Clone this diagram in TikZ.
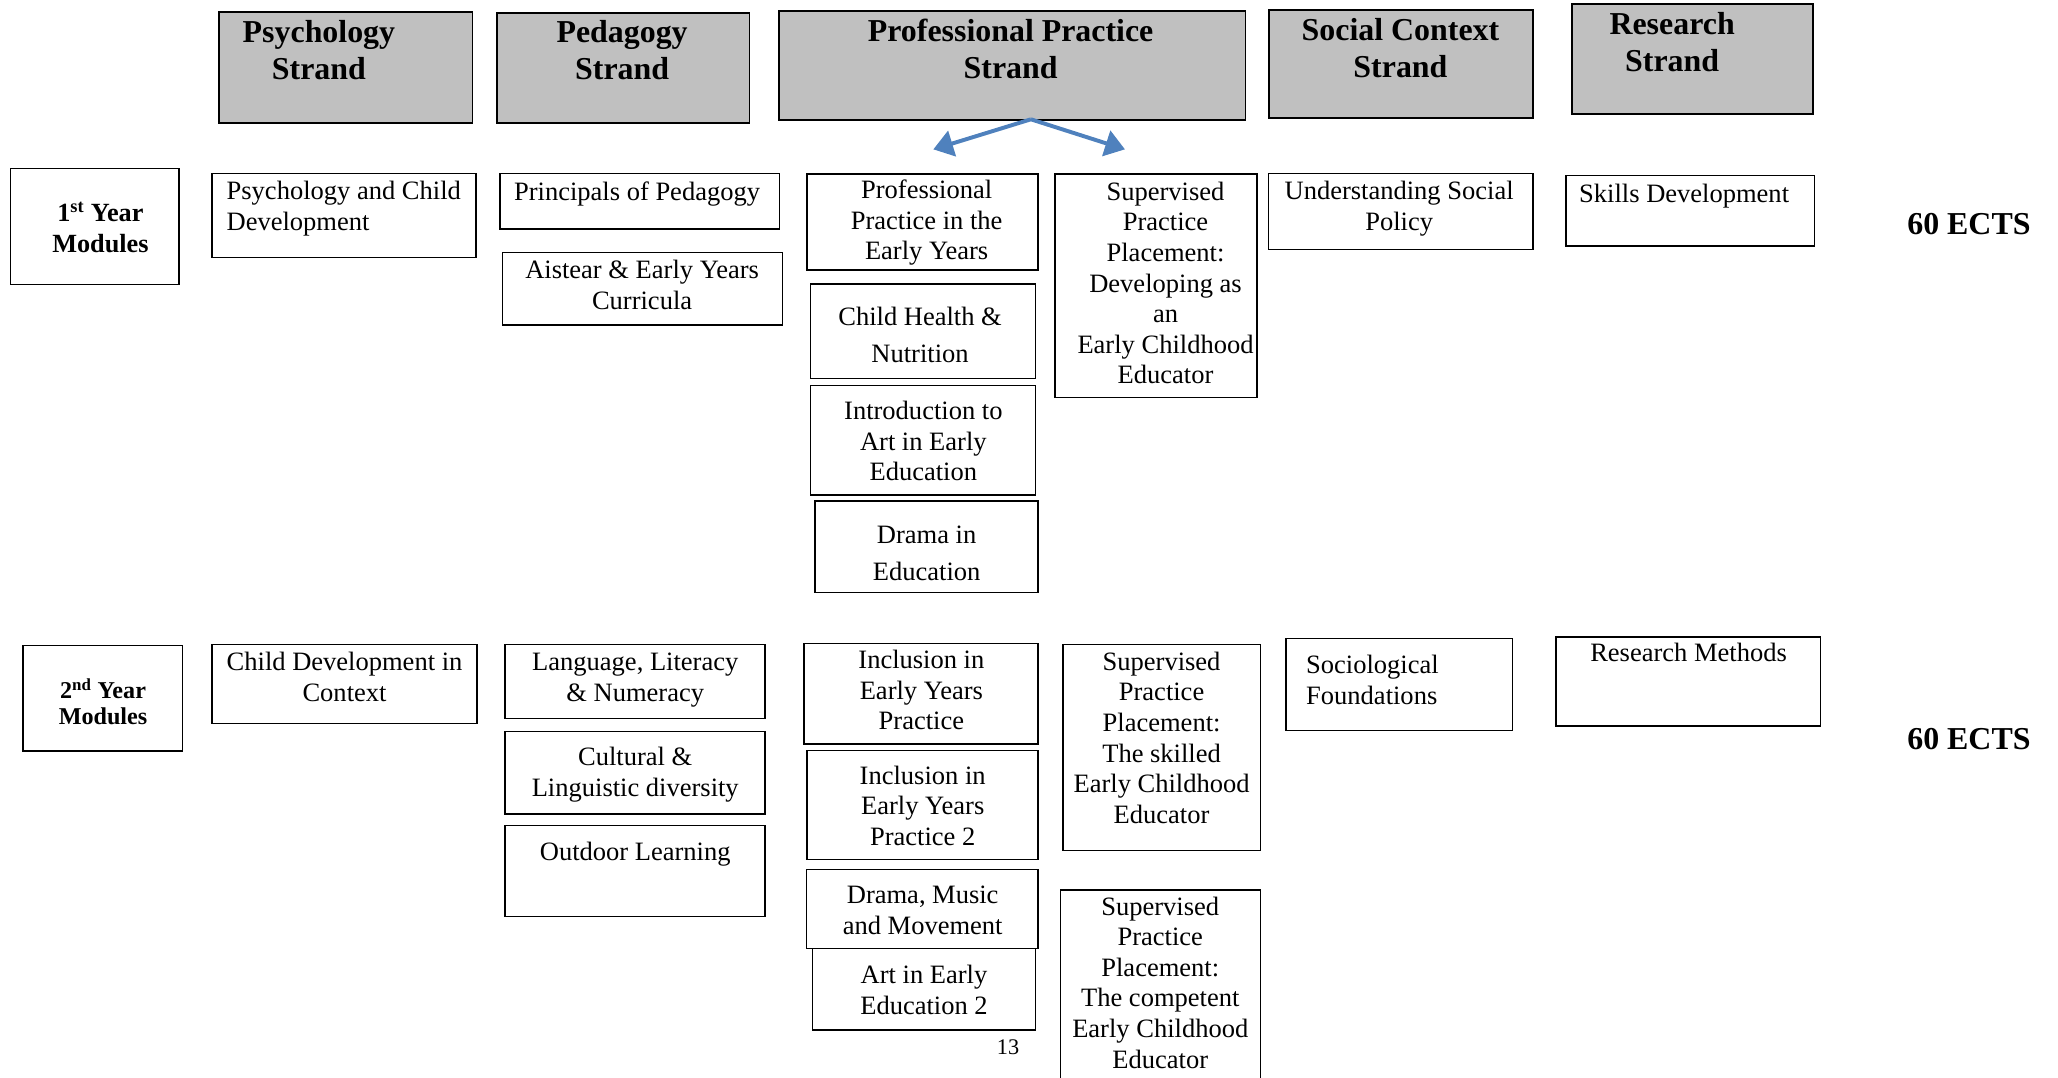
\documentclass[tikz,border=0pt]{standalone}
\usepackage{fontspec}
\setmainfont{Liberation Serif}
\usetikzlibrary{arrows.meta,calc}
\definecolor{hgray}{RGB}{192,192,192}
\definecolor{arrblue}{RGB}{79,129,189}
\newcommand{\bx}[6]{\node[#1, minimum width={#4-#2}, minimum height={#5-#3}] (#6) at (#2,#3) {};}
\begin{document}
\begin{tikzpicture}[x=1pt,y=-1pt,
  hdr/.style={draw=black, line width=1.4pt, fill=hgray, anchor=north west, inner sep=0pt, outer sep=0pt},
  modbox/.style={draw=black, line width=1.1pt, fill=white, anchor=north west, inner sep=0pt, outer sep=0pt},
  htxt/.style={font=\fontsize{24.3}{28}\selectfont\bfseries, align=center, inner sep=0pt, anchor=north},
  ytxt/.style={font=\fontsize{20}{23}\selectfont\bfseries, align=center, inner sep=0pt, anchor=north},
  ytxtb/.style={font=\fontsize{18.4}{20.3}\selectfont\bfseries, align=center, inner sep=0pt, anchor=north},
  mtxt/.style={font=\fontsize{20.2}{23.3}\selectfont, align=center, inner sep=0pt, anchor=north},
  mtxtw/.style={font=\fontsize{20.2}{27.8}\selectfont, align=center, inner sep=0pt, anchor=north},
  ltxt/.style={font=\fontsize{20.2}{23.3}\selectfont, align=left, inner sep=0pt, anchor=north west},
  ects/.style={font=\fontsize{24.3}{28}\selectfont\bfseries, inner sep=0pt, anchor=base west},
  pgnum/.style={font=\fontsize{17}{20}\selectfont, inner sep=0pt, anchor=base},
  arr/.style={draw=arrblue, line width=3pt, -{Triangle[length=15pt,width=20pt]}}
]
\useasboundingbox (0,0) rectangle (1568,821.3);
\clip (0,0) rectangle (1568,821.3);

% strand headers
\bx{hdr}{167}{9.4}{360}{94}{psy}
\bx{hdr}{378.5}{9.7}{571}{94}{ped}
\bx{hdr}{593.5}{8.1}{949}{91.4}{pro}
\bx{hdr}{967}{7.6}{1168}{89.7}{soc}
\bx{hdr}{1197.5}{3}{1381}{86.9}{res}
\node[htxt] (psyT) at (243,12.9) {\strut Psychology\\Strand};
\node[htxt] (pedT) at (474,12.9) {\strut Pedagogy\\Strand};
\node[htxt] (proT) at (770,12.2) {\strut Professional Practice\\Strand};
\node[htxt] (socT) at (1067,11.4) {\strut Social Context\\Strand};
\node[htxt] (resT) at (1274,6.5) {\strut Research\\Strand};

% arrows
\coordinate (apex) at ([xshift=14.2pt,yshift=0.5pt]pro.south);
\coordinate (tipL) at (711.1,113.8);
\coordinate (tipR) at (857.1,113.8);
\draw[arr] (apex) -- (tipL);
\draw[arr] (apex) -- (tipR);

% 1st year
\bx{modbox}{8}{128.2}{136.5}{216.6}{y1}
\node[ytxt] (y1T) at (76.5,152.8) {\strut 1\textsuperscript{st} Year\\Modules};
\bx{modbox}{161.5}{132}{362.5}{196.3}{pcd}
\node[ltxt] (pcdT) at (172.5,135.5) {\strut Psychology and Child\\Development};
\bx{modbox}{381}{132}{594}{174.5}{pped}
\node[ltxt] (ppedT) at (391.5,136.1) {\strut Principals of Pedagogy};
\bx{modbox}{383}{192.5}{596}{247.6}{ais}
\node[mtxt] (aisT) at (489.2,195.7) {\strut Aistear \& Early Years\\Curricula};
\bx{modbox}{615}{132.6}{791}{205.7}{ppey}
\node[mtxt] (ppeyT) at (706,134.8) {\strut Professional\\Practice in the\\Early Years};
\bx{modbox}{617.4}{216.4}{789}{288.5}{ch}
\node[mtxtw] (chT) at (701,228.6) {\strut Child Health \&\\Nutrition};
\bx{modbox}{617.4}{293.6}{789}{377.1}{ia}
\node[mtxt] (iaT) at (703.5,303.2) {\strut Introduction to\\Art in Early\\Education};
\bx{modbox}{621}{381.7}{791}{451.6}{dr}
\node[mtxtw] (drT) at (706,394.5) {\strut Drama in\\Education};
\bx{modbox}{803.8}{132.6}{957.7}{303}{sp1}
\node[mtxt] (sp1T) at (888,136.1) {\strut Supervised\\Practice\\Placement:\\Developing as\\an\\Early Childhood\\Educator};
\bx{modbox}{966.5}{132}{1168}{190}{usp}
\node[mtxt] (uspT) at (1066,135.5) {\strut Understanding Social\\Policy};
\bx{modbox}{1193}{133.9}{1382.5}{187.4}{sk}
\node[ltxt] (skT) at (1203,137.4) {\strut Skills Development};
\node[ects] (ects1) at (1453,178.3) {60 ECTS};

% 2nd year
\bx{modbox}{17.5}{492}{139}{572.2}{y2}
\node[ytxtb] (y2T) at (78.5,516.6) {\strut 2\textsuperscript{nd} Year\\Modules};
\bx{modbox}{161.5}{490.9}{363.5}{551.1}{cdc}
\node[mtxt] (cdcT) at (262.5,494.7) {\strut Child Development in\\Context};
\bx{modbox}{384.9}{490.9}{583}{547.3}{lln}
\node[mtxt] (llnT) at (484,494.7) {\strut Language, Literacy\\\& Numeracy};
\bx{modbox}{384.9}{557.5}{583}{620.2}{cld}
\node[mtxt] (cldT) at (484,567.1) {\strut Cultural \&\\Linguistic diversity};
\bx{modbox}{384.9}{628.8}{583}{698.4}{ol}
\node[mtxt] (olT) at (484,638.9) {\strut Outdoor Learning};
\bx{modbox}{612.4}{490.2}{791}{566.9}{inc1}
\node[mtxt] (inc1T) at (702,492.9) {\strut Inclusion in\\Early Years\\Practice};
\bx{modbox}{615}{571.9}{791}{654.7}{inc2}
\node[mtxt] (inc2T) at (703,581) {\strut Inclusion in\\Early Years\\Practice 2};
\bx{modbox}{614.5}{662.3}{791}{722.8}{dmm}
\node[mtxt] (dmmT) at (703,672) {\strut Drama, Music\\and Movement};
\bx{modbox}{619}{722.8}{789}{784.8}{ae2}
\node[mtxt] (ae2T) at (704,732.9) {\strut Art in Early\\Education 2};
\bx{modbox}{810}{490.9}{960.5}{648.1}{sp2}
\node[mtxt] (sp2T) at (885,494.2) {\strut Supervised\\Practice\\Placement:\\The skilled\\Early Childhood\\Educator};
\bx{modbox}{808}{678.1}{960.5}{835}{sp3}
\node[mtxt] (sp3T) at (884,680.8) {\strut Supervised\\Practice\\Placement:\\The competent\\Early Childhood\\Educator};
\bx{modbox}{979.9}{486.6}{1152.5}{556.7}{sf}
\node[ltxt] (sfT) at (995,496.7) {\strut Sociological\\Foundations};
\bx{modbox}{1185.5}{485.3}{1387}{553.1}{rm}
\node[mtxt] (rmT) at (1286.5,487.8) {\strut Research Methods};
\node[ects] (ects2) at (1453,570.7) {60 ECTS};

\node[pgnum] (pg) at (768,803.8) {13};
\end{tikzpicture}
\end{document}
